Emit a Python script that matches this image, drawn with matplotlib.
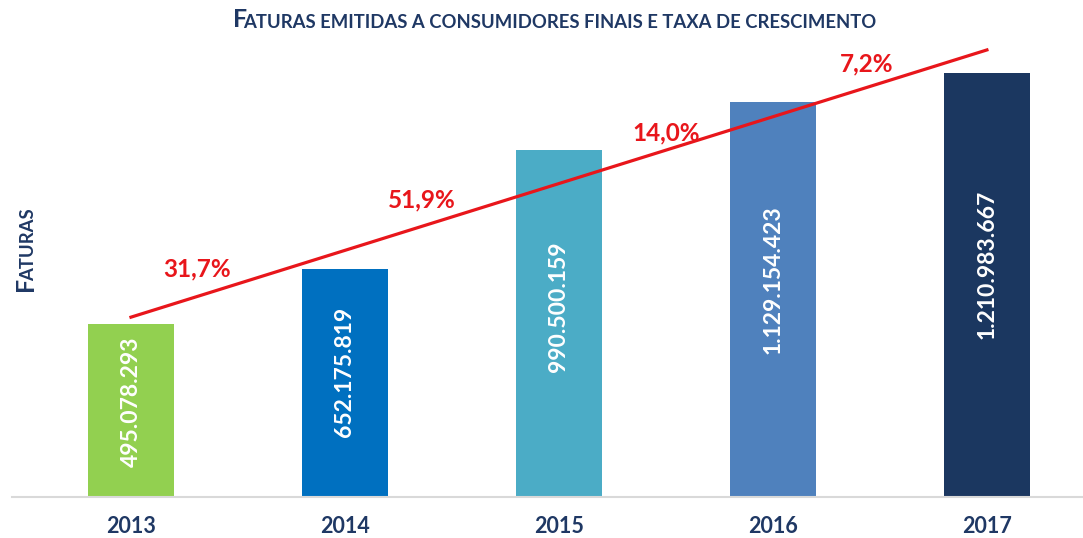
import matplotlib.pyplot as plt
import numpy as np

plt.rcParams["font.family"] = ["Lato", "DejaVu Sans"]

years = ["2013", "2014", "2015", "2016", "2017"]
faturas = [495078293, 652175819, 990500159, 1129154423, 1210983667]
growth = ["31,7%", "51,9%", "14,0%", "7,2%"]
colors = ["#92D050", "#0070C0", "#4BACC6", "#4F81BD", "#1B3760"]

navy = "#1F3864"
red = "#E8161B"

fig = plt.figure(figsize=(10.83, 5.38), dpi=100)
ax = fig.add_axes([12 / 1083, 41 / 538, 1071 / 1083, 455 / 538])

x = np.arange(len(years))
vals = np.array(faturas) / 1e6
ax.bar(x, vals, width=0.4, color=colors, zorder=2)

# value labels inside bars
for xi, v in zip(x, faturas):
    ax.text(xi, v / 1e6 * 0.55, f"{v:,}".replace(",", "."), rotation=90,
            ha="center", va="center", color="white", fontsize=16.5,
            fontweight="bold", zorder=3)

# linear trend line
coef = np.polyfit(x, vals, 1)
trend = np.poly1d(coef)
ax.plot([x[0], x[-1]], trend([x[0], x[-1]]), color=red, lw=2.3, zorder=4)

# growth labels above the trend line
lab_x = [0.31, 1.36, 2.5, 3.44]
lab_dy = [80, 74, 50, 66]
for lx, dy, g in zip(lab_x, lab_dy, growth):
    ax.text(lx, trend(lx) + dy, g, ha="center", va="center", color=red,
            fontsize=17.5, fontweight="bold", zorder=5)

ax.set_xlim(-0.556, 4.449)
ax.set_ylim(0, 1300)
ax.set_xticks(x)
ax.set_xticklabels(years, fontsize=15.5, fontweight="bold", color=navy)
ax.tick_params(axis="x", length=0, pad=14)
ax.set_yticks([])
for s in ["top", "right", "left"]:
    ax.spines[s].set_visible(False)
ax.spines["bottom"].set_color("#D9D9D9")
ax.spines["bottom"].set_linewidth(1.5)

# small-caps style title
t1 = fig.text(0.2, 1 - 31 / 538, "F", fontsize=18, fontweight="bold",
              color=navy, ha="left", va="bottom")
t2 = fig.text(0.2, 1 - 31 / 538,
              "ATURAS EMITIDAS A CONSUMIDORES FINAIS E TAXA DE CRESCIMENTO",
              ha="left", va="bottom", fontsize=13.3, fontweight="bold",
              color=navy)

# small-caps style y label
y1 = fig.text(37 / 1083, 1 - 291 / 538, "F", fontsize=18, fontweight="bold",
              color=navy, ha="right", va="bottom", rotation=90)
y2 = fig.text(37 / 1083, 0.5, "ATURAS", fontsize=13.3, fontweight="bold",
              color=navy, ha="right", va="bottom", rotation=90)

fig.canvas.draw()
r = fig.canvas.get_renderer()
b1 = t1.get_window_extent(r)
b2 = t2.get_window_extent(r)
gap = 4
total = b1.width + b2.width - gap
x0 = 555 - total / 2
t1.set_x(x0 / 1083)
t2.set_x((x0 + b1.width - gap) / 1083)

c1 = y1.get_window_extent(r)
y2.set_y((c1.y1 - gap) / 538)

fig.savefig("out.png", dpi=100)
